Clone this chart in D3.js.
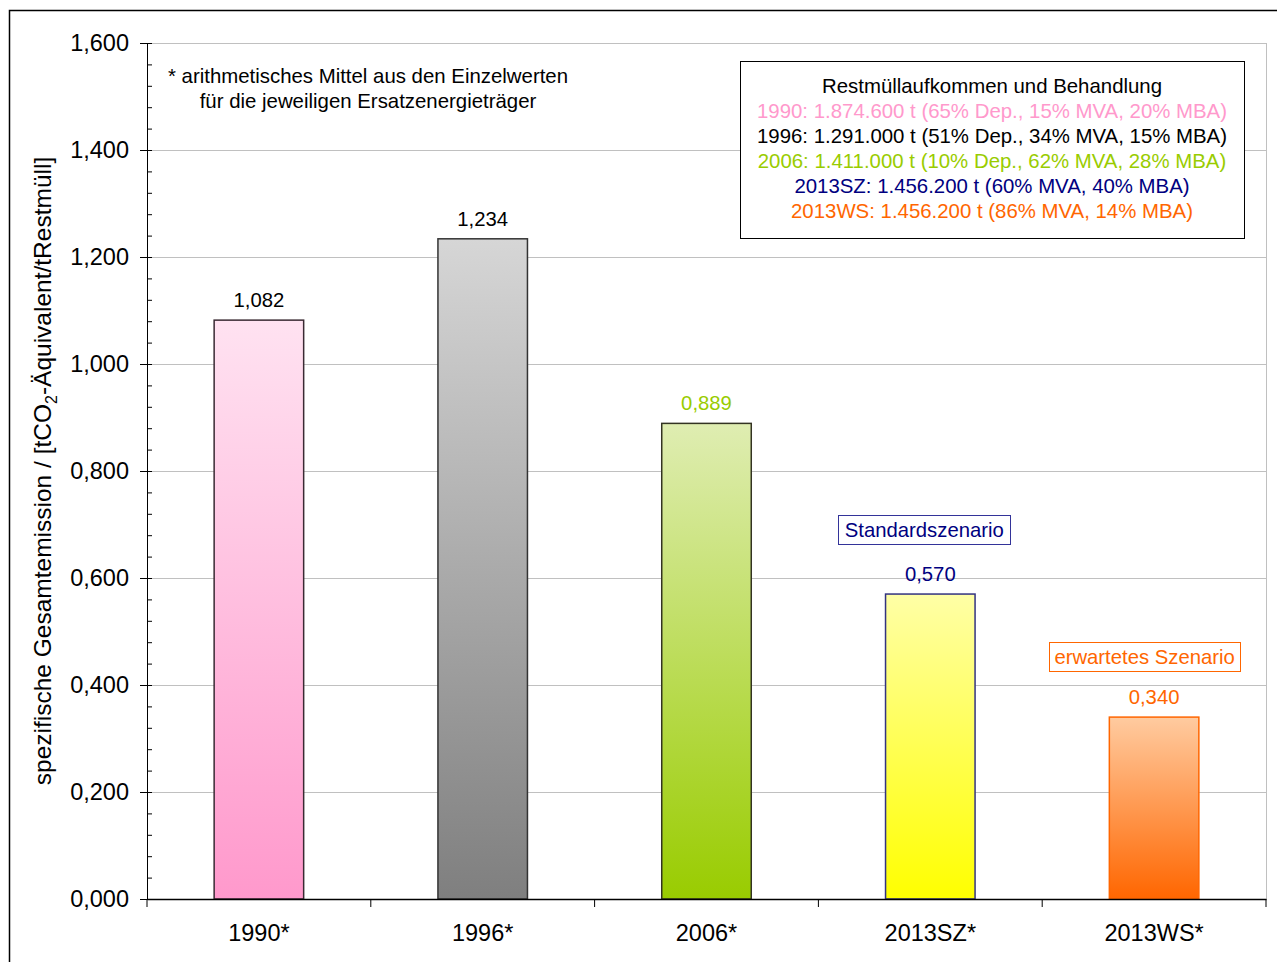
<!DOCTYPE html>
<html>
  <head>
    <meta charset="utf-8"/>
    <title>Restmüll Emission</title>
    <script src="https://d3js.org/d3.v7.min.js"></script>
    <style>
      body { margin: 0; background: #fff; }
      svg { font-family: "Liberation Sans", Arial, sans-serif; }
    </style>
  </head>
  <body>
    <div id="content"></div>
    <script type="text/javascript">

        // data
        const categories = ['1990*', '1996*', '2006*', '2013SZ*', '2013WS*']
        const values = [1.082, 1.234, 0.889, 0.570, 0.340]
        const labelColors = ['#000000', '#000000', '#99cc00', '#000080', '#ff6600']
        const topColors = ['#ffe2f1', '#d6d6d6', '#dfedb2', '#ffffa6', '#ffcba0']
        const bottomColors = ['#ff99cc', '#7f7f7f', '#99cc00', '#ffff00', '#ff6600']
        const strokeColors = ['#3a2a33', '#333333', '#333322', '#333380', '#ff6600']
        const yTicks = [0, 0.2, 0.4, 0.6, 0.8, 1.0, 1.2, 1.4, 1.6]

        const legendTitle = 'Restmüllaufkommen und Behandlung'
        const legendLines = [
            '1990: 1.874.600 t (65% Dep., 15% MVA, 20% MBA)',
            '1996: 1.291.000 t (51% Dep., 34% MVA, 15% MBA)',
            '2006: 1.411.000 t (10% Dep., 62% MVA, 28% MBA)',
            '2013SZ: 1.456.200 t (60% MVA, 40% MBA)',
            '2013WS: 1.456.200 t (86% MVA, 14% MBA)'
        ]
        const legendColors = ['#ff99cc', '#000000', '#99cc00', '#000080', '#ff6600']
        const noteLines = ['* arithmetisches Mittel aus den Einzelwerten', 'für die jeweiligen Ersatzenergieträger']

        const width = 1277, height = 962
        const plotLeft = 147, plotRight = 1266, plotTop = 43, plotBottom = 899

        const fmt = v => d3.format('.3f')(v).replace('.', ',')

        const svg = d3.select('#content').append('svg').attr('width', width).attr('height', height)

        // outer frame
        svg.append('rect').attr('x', 9.5).attr('y', 10.5).attr('width', 1300).attr('height', 1000)
            .attr('fill', 'none').attr('stroke', '#000').attr('stroke-width', 1.5)

        const xScale = d3.scaleBand().domain(categories).range([plotLeft, plotRight]).paddingInner(0).paddingOuter(0)
        const yScale = d3.scaleLinear().domain([0, 1.6]).range([plotBottom, plotTop])

        // gradients
        const defs = svg.append('defs')
        categories.forEach((c, i) => {
            const g = defs.append('linearGradient').attr('id', 'grad' + i)
                .attr('x1', 0).attr('y1', 0).attr('x2', 0).attr('y2', 1)
            g.append('stop').attr('offset', '0%').attr('stop-color', topColors[i])
            g.append('stop').attr('offset', '100%').attr('stop-color', bottomColors[i])
        })

        // grid
        svg.append('g').selectAll('line').data(yTicks.slice(1)).enter().append('line')
            .attr('x1', plotLeft).attr('x2', plotRight)
            .attr('y1', d => Math.round(yScale(d)) + 0.5).attr('y2', d => Math.round(yScale(d)) + 0.5)
            .attr('stroke', '#c0c0c0')
        svg.append('line').attr('x1', plotRight + 0.5).attr('x2', plotRight + 0.5).attr('y1', plotTop).attr('y2', plotBottom)
            .attr('stroke', '#c0c0c0')

        // minor ticks (inside)
        const minor = d3.range(0, 1.6001, 0.04)
        svg.append('g').attr('transform', 'translate(' + plotLeft + ',0)')
            .call(d3.axisRight(yScale).tickValues(minor).tickSize(5).tickFormat(''))
            .call(g => g.select('.domain').remove())
            .call(g => g.selectAll('line').attr('stroke', '#000'))

        // y axis
        const yAxis = d3.axisLeft(yScale).tickValues(yTicks).tickSizeInner(7).tickSizeOuter(0).tickPadding(11).tickFormat(fmt)
        svg.append('g').attr('transform', 'translate(' + plotLeft + ',0)')
            .call(yAxis)
            .call(g => g.selectAll('text').attr('font-size', 23.5).attr('fill', '#000').attr('font-family', '"Liberation Sans", Arial, sans-serif'))
            .call(g => g.selectAll('line,path').attr('stroke', '#000'))

        // bars
        svg.append('g').selectAll('rect').data(values).enter().append('rect')
            .attr('x', (d, i) => xScale(categories[i]) + xScale.bandwidth() * 0.3)
            .attr('width', xScale.bandwidth() * 0.4)
            .attr('y', d => yScale(d))
            .attr('height', d => plotBottom - yScale(d))
            .attr('fill', (d, i) => 'url(#grad' + i + ')')
            .attr('stroke', (d, i) => strokeColors[i])
            .attr('stroke-width', 1.5)

        // value labels
        svg.append('g').selectAll('text').data(values).enter().append('text')
            .attr('x', (d, i) => xScale(categories[i]) + xScale.bandwidth() / 2)
            .attr('y', d => yScale(d) - 13)
            .attr('text-anchor', 'middle')
            .attr('font-size', 20.3)
            .attr('fill', (d, i) => labelColors[i])
            .text(d => fmt(d))

        // x axis
        const xAxis = d3.axisBottom(xScale).tickSize(0).tickPadding(25)
        svg.append('g').attr('transform', 'translate(0,' + plotBottom + ')')
            .call(xAxis)
            .call(g => g.selectAll('text').attr('font-size', 23.5).attr('fill', '#000').attr('font-family', '"Liberation Sans", Arial, sans-serif'))
            .call(g => g.select('.domain').attr('stroke', '#000').attr('stroke-width', 1.5))
        svg.append('g').selectAll('line').data(categories.concat(['end'])).enter().append('line')
            .attr('x1', (d, i) => i < categories.length ? xScale(d) : plotRight)
            .attr('x2', (d, i) => i < categories.length ? xScale(d) : plotRight)
            .attr('y1', plotBottom).attr('y2', plotBottom + 8)
            .attr('stroke', '#000')

        // y title
        const yTitle = svg.append('text')
            .attr('transform', 'translate(51,' + ((plotTop + plotBottom) / 2) + ') rotate(-90)')
            .attr('text-anchor', 'middle')
            .attr('font-size', 24.5)
        yTitle.append('tspan').text('spezifische Gesamtemission / [tCO')
        yTitle.append('tspan').attr('font-size', 16).attr('dy', 6).text('2')
        yTitle.append('tspan').attr('dy', -6).text('-Äquivalent/tRestmüll]')

        // note
        svg.append('g').selectAll('text').data(noteLines).enter().append('text')
            .attr('x', 368).attr('y', (d, i) => 83 + i * 25)
            .attr('text-anchor', 'middle').attr('font-size', 20.4)
            .text(d => d)

        // legend box
        svg.append('rect').attr('x', 740.5).attr('y', 61.5).attr('width', 504).attr('height', 177)
            .attr('fill', '#fff').attr('stroke', '#000')
        svg.append('text').attr('x', 992).attr('y', 93).attr('text-anchor', 'middle').attr('font-size', 20.4)
            .text(legendTitle)
        svg.append('g').selectAll('text').data(legendLines).enter().append('text')
            .attr('x', 992).attr('y', (d, i) => 118 + i * 25)
            .attr('text-anchor', 'middle').attr('font-size', 20.4)
            .attr('fill', (d, i) => legendColors[i])
            .text(d => d)

        // scenario boxes
        const boxes = [
            { text: 'Standardszenario', cat: '2013SZ*', dx: -6, y: 515, w: 172, color: '#000080', stroke: '#333399' },
            { text: 'erwartetes Szenario', cat: '2013WS*', dx: -9.5, y: 642, w: 191, color: '#ff6600', stroke: '#ff6600' }
        ]
        boxes.forEach(b => {
            const cx = xScale(b.cat) + xScale.bandwidth() / 2 + b.dx
            svg.append('rect').attr('x', Math.round(cx - b.w / 2) + 0.5).attr('y', b.y + 0.5)
                .attr('width', b.w).attr('height', 29).attr('fill', '#fff').attr('stroke', b.stroke)
            svg.append('text').attr('x', cx).attr('y', b.y + 22).attr('text-anchor', 'middle')
                .attr('font-size', 20.3).attr('fill', b.color).text(b.text)
        })

    </script>
  </body>
</html>
